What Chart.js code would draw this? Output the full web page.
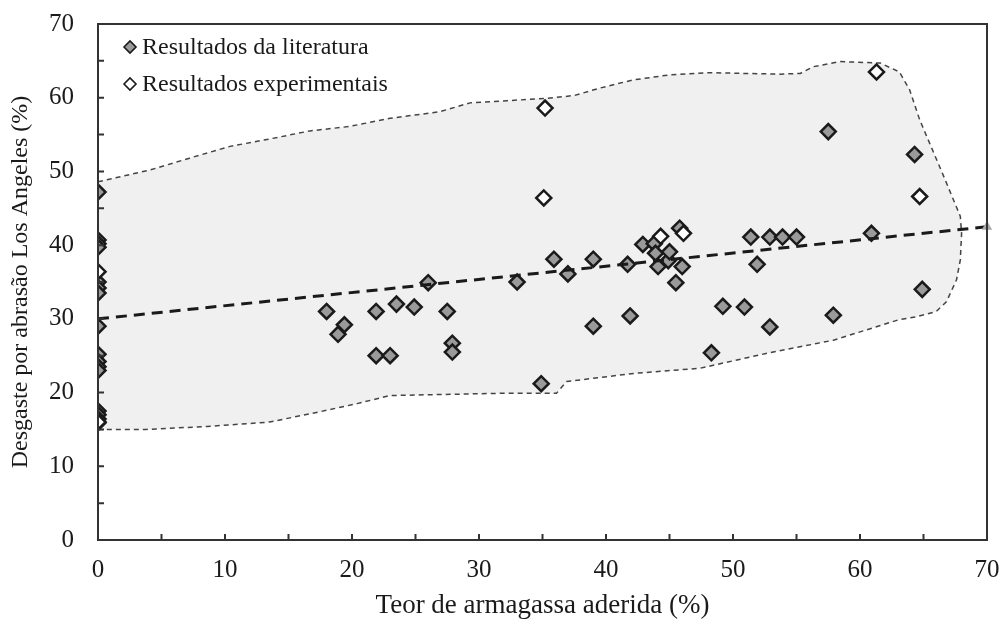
<!DOCTYPE html>
<html>
<head>
<meta charset="utf-8">
<script src="https://cdn.jsdelivr.net/npm/chart.js@4"></script>
<style>
  html, body { margin: 0; padding: 0; background: #fff; }
  #wrap { width: 1002px; height: 622px; }
</style>
</head>
<body>
<div id="wrap"><canvas id="chart"></canvas></div>
<script>
// literature results (grey diamonds)
const litX = [0, 0, 0, 0, 0, 0, 0, 0, 0, 0, 0, 0, 0, 0, 0, 0,
  18, 18.9, 19.4, 21.9, 21.9, 23, 23.5, 24.9, 26, 27.5, 27.9, 27.9,
  33, 34.9, 35.9, 37, 39, 39, 41.7, 41.9, 42.9, 43.8, 43.9, 44.1, 44.9, 45, 45.5, 45.8, 46,
  48.3, 49.2, 50.9, 51.4, 51.9, 52.9, 52.9, 53.9, 55, 57.5, 57.9, 60.9, 64.3, 64.9]
const litY = [47.2, 40.7, 40.2, 39.7, 35.0, 34.2, 33.5, 29.0, 25.2, 24.2, 23.5, 23.0, 17.5, 17.0, 16.4, 15.9,
  31, 27.9, 29.2, 31, 25, 25, 32, 31.6, 34.9, 31, 26.7, 25.5,
  35, 21.2, 38.1, 36.1, 38.1, 29, 37.4, 30.4, 40.1, 40.2, 38.9, 37.1, 37.9, 39.1, 34.9, 42.3, 37.1,
  25.4, 31.7, 31.6, 41.1, 37.4, 41.1, 28.9, 41.1, 41.1, 55.4, 30.5, 41.6, 52.3, 34.0]

// experimental results (white diamonds)
const expX = [0, 0, 35.2, 35.1, 44.3, 46.1, 61.3, 64.7]
const expY = [36.4, 16.0, 58.6, 46.4, 41.2, 41.6, 63.5, 46.6]

// trend line
const trendX = [0, 70]
const trendY = [30, 42.5]

// shaded envelope (closed outline)
const envX = [0, 4.1, 7.2, 10.4, 13.5, 16.7, 19.8, 23.0, 26.9, 29.3, 32.2, 35.3, 37.5, 39.5, 42.1, 45, 48,
  53.7, 55.3, 56.3, 58.4, 61.6, 63.1, 63.9, 64.7, 66.6, 67.9, 68.0, 67.9, 67.6, 66.8, 66.0, 64.5, 63.1,
  60.5, 57.9, 52.6, 47.4, 42.2, 36.9, 36.1, 31.7, 23.0, 20.4, 17.2, 13.5, 8.6, 3.8, 0]
const envY = [48.6, 50.2, 51.8, 53.4, 54.4, 55.5, 56.1, 57.2, 58.1, 59.3, 59.6, 59.9, 60.3, 61.3, 62.4, 63.1, 63.4,
  63.2, 63.3, 64.2, 64.9, 64.7, 63.5, 61.1, 57.0, 49.3, 43.9, 41.6, 38.0, 35.3, 32.3, 31.0, 30.3, 29.9,
  28.5, 27.1, 25.3, 23.3, 22.6, 21.5, 19.9, 19.9, 19.6, 18.5, 17.3, 16.0, 15.4, 15.0, 15.0]

const xTicks = [0, 10, 20, 30, 40, 50, 60, 70]
const yTicks = [0, 10, 20, 30, 40, 50, 60, 70]

const toPts = (xs, ys) => xs.map((x, i) => ({ x: x, y: ys[i] }))
const serif = "'Liberation Serif', 'Times New Roman', serif"

// envelope fill + dashed outline, under the points
const envelopePlugin = {
  id: 'envelope',
  beforeDatasetsDraw(chart) {
    const { ctx, scales: { x, y } } = chart
    const path = () => {
      ctx.beginPath()
      envX.forEach((v, i) => {
        const px = x.getPixelForValue(v), py = y.getPixelForValue(envY[i])
        if (i === 0) ctx.moveTo(px, py)
        else ctx.lineTo(px, py)
      })
    }
    ctx.save()
    path()
    ctx.closePath()
    ctx.fillStyle = '#f0f0f0'
    ctx.fill()
    path()
    ctx.setLineDash([5, 4])
    ctx.lineWidth = 1.5
    ctx.strokeStyle = '#444'
    ctx.stroke()
    ctx.restore()
  }
}

// frame, inward ticks and the legend inside the plot
const framePlugin = {
  id: 'frame',
  afterDatasetsDraw(chart) {
    const { ctx, chartArea: a, scales: { x, y } } = chart
    ctx.save()
    ctx.strokeStyle = '#333'
    ctx.lineWidth = 2
    ctx.beginPath()
    for (let v = 5; v < 70; v += 5) {
      const px = x.getPixelForValue(v)
      ctx.moveTo(px, a.bottom)
      ctx.lineTo(px, a.bottom - 6)
      const py = y.getPixelForValue(v)
      ctx.moveTo(a.left, py)
      ctx.lineTo(a.left + 6, py)
    }
    ctx.stroke()
    ctx.strokeRect(a.left, a.top, a.right - a.left, a.bottom - a.top)

    // legend
    const items = chart.data.datasets.filter(d => d.label !== '')
    ctx.font = '24px ' + serif
    ctx.textBaseline = 'middle'
    items.forEach((d, i) => {
      const cx = a.left + 32, cy = a.top + 23 + i * 37, r = 6
      ctx.beginPath()
      ctx.moveTo(cx - r, cy)
      ctx.lineTo(cx, cy - r)
      ctx.lineTo(cx + r, cy)
      ctx.lineTo(cx, cy + r)
      ctx.closePath()
      ctx.fillStyle = d.backgroundColor
      ctx.fill()
      ctx.lineWidth = 1.6
      ctx.strokeStyle = '#1a1a1a'
      ctx.stroke()
      ctx.fillStyle = '#1a1a1a'
      ctx.fillText(d.label, cx + 12, cy + 1)
    })
    ctx.restore()
  }
}

const ctx = document.querySelector('#chart').getContext('2d')

new Chart(ctx, {
  type: 'scatter',
  data: {
    datasets: [
      {
        label: '',
        type: 'line',
        data: toPts(trendX, trendY),
        borderColor: '#1a1a1a',
        borderWidth: 3,
        borderDash: [11, 7],
        pointRadius: [0, 6],
        pointStyle: 'triangle',
        pointBackgroundColor: '#aaa',
        pointBorderWidth: 0,
        clip: false,
        order: 0
      },
      {
        label: 'Resultados da literatura',
        data: toPts(litX, litY),
        pointStyle: 'rectRot',
        pointRadius: 7.5,
        backgroundColor: '#9a9a9a',
        borderColor: '#1a1a1a',
        borderWidth: 2.5,
        order: 2
      },
      {
        label: 'Resultados experimentais',
        data: toPts(expX, expY),
        pointStyle: 'rectRot',
        pointRadius: 7.5,
        backgroundColor: '#ffffff',
        borderColor: '#1a1a1a',
        borderWidth: 2.5,
        order: 1
      }
    ]
  },
  options: {
    responsive: true,
    maintainAspectRatio: false,
    animation: false,
    layout: { padding: { left: 0, right: 15, top: 24, bottom: 0 } },
    plugins: {
      tooltip: { enabled: false },
      legend: { display: false }
    },
    scales: {
      x: {
        type: 'linear',
        min: 0,
        max: 70,
        afterFit: s => { s.height = 82; s.paddingLeft = 0; s.paddingRight = 0 },
        afterBuildTicks: s => { s.ticks = xTicks.map(v => ({ value: v })) },
        grid: { display: false, drawTicks: false },
        border: { display: false },
        ticks: {
          padding: 15,
          color: '#1a1a1a',
          font: { family: serif, size: 25 }
        },
        title: {
          display: true,
          text: 'Teor de armagassa aderida (%)',
          color: '#1a1a1a',
          font: { family: serif, size: 27 },
          padding: { top: 0, bottom: 0 }
        }
      },
      y: {
        type: 'linear',
        min: 0,
        max: 70,
        afterFit: s => { s.width = 98; s.paddingTop = 0; s.paddingBottom = 0 },
        afterBuildTicks: s => { s.ticks = yTicks.map(v => ({ value: v })) },
        grid: { display: false, drawTicks: false },
        border: { display: false },
        ticks: {
          padding: 24,
          color: '#1a1a1a',
          font: { family: serif, size: 25 }
        },
        title: {
          display: true,
          text: 'Desgaste por abrasão Los Angeles (%)',
          color: '#1a1a1a',
          font: { family: serif, size: 24 },
          padding: { top: 6, bottom: 0 }
        }
      }
    }
  },
  plugins: [envelopePlugin, framePlugin]
})
</script>
</body>
</html>
